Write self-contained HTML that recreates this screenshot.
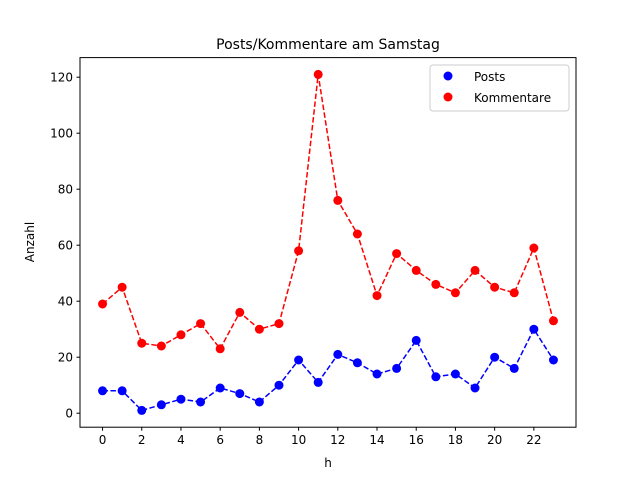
<!DOCTYPE html>
<html><head><meta charset="utf-8"><style>
body{margin:0;background:#fff;}
svg text{font-family:"DejaVu Sans","Liberation Sans",sans-serif;fill:#000;}
</style></head><body>
<svg id="chart" width="640" height="480" xmlns="http://www.w3.org/2000/svg">
<rect width="640" height="480" fill="#fff"/>
<text x="328" y="49" font-size="14" text-anchor="middle">Posts/Kommentare am Samstag</text>
<g id="plot"></g>
<rect x="80" y="57.6" width="496" height="369.6" fill="none" stroke="#000" stroke-width="1"/>
<text x="328" y="467" font-size="12" text-anchor="middle">h</text>
<text x="34" y="242" font-size="12" text-anchor="middle" transform="rotate(-90 34 242)">Anzahl</text>
<g>
<rect x="430" y="65" width="139" height="46" rx="3" fill="#fff" stroke="#ccc"/>
<circle cx="448" cy="76" r="4.5" fill="#0000ff"/>
<text x="474" y="81" font-size="12">Posts</text>
<circle cx="448" cy="97" r="4.5" fill="#ff0000"/>
<text x="474" y="102" font-size="12">Kommentare</text>
</g>
</svg>
<script>
const hours=[0,1,2,3,4,5,6,7,8,9,10,11,12,13,14,15,16,17,18,19,20,21,22,23];
const posts=[8,8,1,3,5,4,9,7,4,10,19,11,21,18,14,16,26,13,14,9,20,16,30,19];
const kommentare=[39,45,25,24,28,32,23,36,30,32,58,121,76,64,42,57,51,46,43,51,45,43,59,33];
const xTicks=[0,2,4,6,8,10,12,14,16,18,20,22];
const yTicks=[0,20,40,60,80,100,120];
const L=80,R=576,T=57.6,B=427.2;
const all=posts.concat(kommentare);
const ymin0=Math.min(...all),ymax0=Math.max(...all),ym=(ymax0-ymin0)*0.05;
const ymin=ymin0-ym,ymax=ymax0+ym;
const xmin0=Math.min(...hours),xmax0=Math.max(...hours),xm=(xmax0-xmin0)*0.05;
const xmin=xmin0-xm,xmax=xmax0+xm;
function sx(v){return L+(v-xmin)/(xmax-xmin)*(R-L);}
function sy(v){return B-(v-ymin)/(ymax-ymin)*(B-T);}
const NS="http://www.w3.org/2000/svg";
const g=document.getElementById('plot');
function mk(t,a){const e=document.createElementNS(NS,t);for(const k in a)e.setAttribute(k,a[k]);g.appendChild(e);return e;}
xTicks.forEach(v=>{
  const l=mk('line',{x1:sx(v),x2:sx(v),y1:B,y2:B+3.5,stroke:'#000'});
  
  
  const t=mk('text',{x:sx(v),y:B+17,'font-size':12,'text-anchor':'middle'});t.textContent=v;
  
  
});
yTicks.forEach(v=>{
  const l=mk('line',{x1:L-3.5,x2:L,y1:sy(v),y2:sy(v),stroke:'#000'});
  
  
  const t=mk('text',{x:L-7,y:sy(v)+4.5,'font-size':12,'text-anchor':'end'});t.textContent=v;
  
  
});
function series(vals,color,name){
  const p=mk('polyline',{points:vals.map((v,i)=>sx(hours[i])+','+sy(v)).join(' '),fill:'none',stroke:color,'stroke-width':1.5,'stroke-dasharray':'5.5,2.4'});
  
  
  vals.forEach((v,i)=>{
    const c=mk('circle',{cx:sx(hours[i]),cy:sy(v),r:4.5,fill:color});
    
    
  });
}
series(posts,'#0000ff','posts');
series(kommentare,'#ff0000','kommentare');
</script>
</body></html>
